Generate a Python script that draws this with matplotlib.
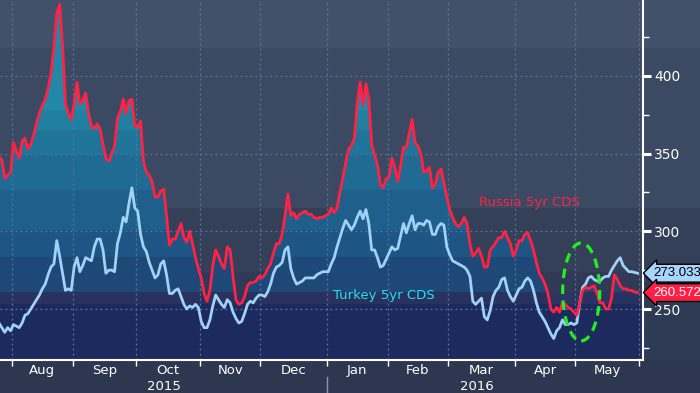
import numpy as np
import pandas as pd
import matplotlib
matplotlib.use('Agg')
import matplotlib.pyplot as plt
from matplotlib.patches import Ellipse
from matplotlib.colors import to_rgb
import matplotlib.transforms as mtransforms

# ---------------- data (business days from 2015-07-27) ----------------
start_date = '2015-07-27'

russia_cds = [
    348, 346, 334, 336, 338, 357, 352, 347, 358, 360,
    353, 356, 362, 370, 376, 381, 385, 392, 402, 418,
    440, 446, 420, 382, 376, 372, 382, 396, 382, 384,
    389, 376, 368, 366, 369, 366, 356, 347, 345, 350,
    355, 373, 377, 385, 376, 384, 385, 368, 367, 371,
    345, 338, 336, 332, 322, 322, 326, 327, 310, 291,
    295, 295, 300, 305, 296, 293, 300, 292, 283, 276,
    270, 260, 255, 262, 278, 288, 284, 279, 276, 290,
    288, 271, 256, 253, 254, 258, 265, 267, 267, 268,
    271, 270, 272, 276, 279, 286, 292, 292, 298, 310,
    324, 310, 312, 308, 311, 312, 313, 311, 311, 309,
    308, 309, 309, 310, 311, 315, 312, 315, 325, 334,
    344, 353, 355, 360, 383, 396, 381, 395, 385, 356,
    349, 343, 330, 328, 334, 335, 347, 341, 332, 342,
    354, 354, 363, 372, 357, 355, 350, 338, 339, 341,
    328, 330, 338, 340, 331, 322, 314, 309, 305, 303,
    305, 309, 305, 292, 284, 286, 289, 284, 277, 277,
    288, 290, 293, 296, 296, 300, 296, 292, 284, 288,
    294, 294, 298, 299, 294, 288, 280, 273, 270, 266,
    260, 250, 248, 251, 248, 254, 253, 251, 250, 248,
    246, 254, 262, 264, 263, 264, 265, 260, 254, 254,
    250, 250, 257, 272, 269, 265, 263, 263, 262, 262,
    261, 260.572,
]

turkey_cds = [
    241, 238, 235, 238, 236, 240, 239, 238, 241, 246,
    247, 250, 253, 256, 259, 263, 266, 272, 277, 279,
    294, 284, 273, 262, 263, 262, 277, 283, 274, 278,
    283, 282, 281, 290, 295, 295, 288, 273, 275, 275,
    274, 292, 299, 309, 306, 318, 328, 315, 313, 298,
    290, 287, 280, 275, 270, 272, 279, 281, 272, 260,
    260, 262, 263, 258, 253, 250, 252, 251, 253, 251,
    242, 238, 238, 243, 252, 259, 256, 253, 251, 256,
    254, 248, 244, 241, 242, 247, 253, 255, 254, 257,
    259, 259, 258, 261, 266, 273, 277, 278, 280, 288,
    290, 276, 270, 266, 267, 268, 270, 270, 270, 270,
    272, 273, 274, 274, 274, 279, 283, 290, 296, 302,
    307, 304, 301, 304, 309, 313, 308, 314, 305, 288,
    288, 283, 277, 278, 282, 286, 290, 288, 289, 297,
    305, 299, 305, 310, 301, 305, 305, 304, 307, 306,
    298, 298, 303, 305, 304, 290, 285, 281, 280, 279,
    278, 277, 275, 271, 255, 253, 255, 257, 245, 243,
    249, 258, 262, 264, 269, 270, 262, 258, 255, 259,
    263, 264, 268, 270, 268, 262, 254, 248, 245, 242,
    238, 234, 231, 236, 238, 243, 240, 240, 241, 240,
    241, 254, 264, 266, 270, 271, 269, 268, 268, 270,
    271, 271, 275, 278, 281, 283, 278, 276, 274, 274,
    273.5, 273.033,
]

y_major = [250, 300, 350, 400]
y_minor = [225, 275, 325, 375, 425]
month_labels = ['Aug', 'Sep', 'Oct', 'Nov', 'Dec', 'Jan', 'Feb', 'Mar', 'Apr', 'May']
year_labels = ['2015', '2016']
russia_label = 'Russia 5yr CDS'
turkey_label = 'Turkey 5yr CDS'

# ---------------- styling ----------------
RED = '#ff2244'
BLUE = '#a0d1f7'
CYAN = '#18e6f2'
GREEN = '#22ee22'
GRID = '#58789a'

dates = pd.bdate_range(start_date, periods=len(russia_cds))
x = np.arange(len(dates))
russia = np.array(russia_cds, dtype=float)
turkey = np.array(turkey_cds, dtype=float)

months = dates.to_period('M')
first_idx = [int(np.where(months == m)[0][0]) for m in months.unique()]
bounds = [i - 0.5 for i in first_idx[1:]] + [len(dates) - 0.5]
mids = [(a + b) / 2 for a, b in zip(bounds[:-1], bounds[1:])]
jan_bound = bounds[month_labels.index('Jan')]

W, H = 700, 393
fig = plt.figure(figsize=(W / 100, H / 100), dpi=100)
fig.patch.set_facecolor('#2d3850')

# figure background bands (pixel rows from top)
bg = fig.add_axes([0, 0, 1, 1], zorder=0)
bg.set_xlim(0, W)
bg.set_ylim(H, 0)
bg.axis('off')
for y0, y1, c in [(0, 48, '#435069'), (48, 208, '#3b4963'), (208, 275, '#343f58'),
                  (275, 360, '#2f3a54'), (360, 393, '#2d3850')]:
    bg.axhspan(y0, y1, color=c, lw=0)

# main axes
ax = fig.add_axes([0, 33 / H, 643 / W, 360 / H], zorder=1)
ax.set_facecolor('none')
ylo, yhi = 217.2, 448.8
xlo, xhi = 0.35, 222.9

# background value bands
bg_edges = [ylo, 253.2, 260.9, 273.8, 315.0, 418.0, yhi]
bg_cols = ['#1d2b5f', '#2c3460', '#303a56', '#343f58', '#3b4963', '#435069']
for a, b, c in zip(bg_edges[:-1], bg_edges[1:], bg_cols):
    ax.axhspan(a, b, color=c, lw=0, zorder=0.3)

# banded gradient fill under the Russia line
fill_edges = [253.2, 260.9, 283.5, 300.8, 326.6, 350, 365, 378]
fill_cols = ['#1c2a5e', '#29325f', '#1e4878', '#1d5584', '#1e608b',
             '#1f6b93', '#1f7599', '#217fa0', '#2387a7']
vals = np.linspace(ylo, yhi, 2000)
band_idx = np.searchsorted(fill_edges, vals)
img = np.array([to_rgb(fill_cols[i]) for i in band_idx])[:, None, :]
im = ax.imshow(img, extent=[xlo, xhi, ylo, yhi], origin='lower', aspect='auto',
               interpolation='nearest', zorder=1)
coll = ax.fill_between(x, russia, ylo, facecolor='none', edgecolor='none')
im.set_clip_path(coll.get_paths()[0], ax.transData)

# lines
ax.plot(x, turkey, color=BLUE, lw=2, zorder=3, solid_joinstyle='round')
ax.plot(x, russia, color=RED, lw=2, zorder=4, solid_joinstyle='round')

ax.set_xlim(xlo, xhi)
ax.set_ylim(ylo, yhi)

# grid
ax.set_axisbelow('line')
ax.set_xticks(bounds)
ax.set_xticklabels([])
ax.set_xticks(mids, minor=True)
ax.set_xticklabels(month_labels, minor=True)
ax.yaxis.tick_right()
ax.set_yticks(y_major)
ax.set_yticks(y_minor, minor=True)
ax.grid(True, which='major', color=GRID, lw=0.9, ls=(0, (1.5, 2.5)))

for s in ['left', 'top']:
    ax.spines[s].set_visible(False)
for s in ['right', 'bottom']:
    ax.spines[s].set_color('white')
    ax.spines[s].set_linewidth(1.5)

ax.tick_params(axis='x', which='major', colors='white', length=4, width=1, direction='out')
ax.tick_params(axis='x', which='minor', length=0, pad=3, labelcolor='white', labelsize=9.5)
ax.tick_params(axis='y', which='major', colors='white', length=6, width=2.2,
               direction='out', labelsize=10, pad=2)
ax.tick_params(axis='y', which='minor', colors='white', length=4, width=1, direction='out')

# year labels and separator
trans = mtransforms.blended_transform_factory(ax.transData, fig.transFigure)
year_pos = [(bounds[0] + jan_bound) / 2, (jan_bound + bounds[-1]) / 2]
for xp, lab in zip(year_pos, year_labels):
    ax.text(xp - 2, 1 - 386.5 / H, lab, transform=trans, color='white', fontsize=9.5,
            ha='center', va='center')
ax.plot([jan_bound, jan_bound], [1 - 377 / H, 0], transform=trans, clip_on=False,
        color='#8c94a8', lw=1)

# series labels
ax.text(166.2, 318.5, russia_label, color=RED, fontsize=9.5, ha='left', va='center', zorder=6)
ax.text(115.6, 258.4, turkey_label, color=CYAN, fontsize=9.5, ha='left', va='center', zorder=6)

# price tags on the right
tag_trans = mtransforms.blended_transform_factory(ax.transAxes, ax.transData)
tag_font = dict(family='Liberation Sans', fontsize=9.5)
ax.text(1.0156, turkey[-1], f'{turkey[-1]:.3f}', transform=tag_trans, color='black',
        ha='left', va='center', clip_on=False, zorder=7, **tag_font,
        bbox=dict(boxstyle='larrow,pad=0.22', fc='#a8d5fb', ec='black', lw=1))
ax.text(1.0156, russia[-1], f'{russia[-1]:.3f}', transform=tag_trans, color='white',
        ha='left', va='center', clip_on=False, zorder=7, **tag_font,
        bbox=dict(boxstyle='larrow,pad=0.22', fc='#ff1f44', ec='black', lw=1))

# green dashed ellipse highlight
ax.add_patch(Ellipse((201.5, 261), width=12.8, height=63, fill=False, ec=GREEN,
                     lw=2.3, ls=(0, (3, 2)), zorder=5))

fig.savefig('out.png', dpi=100, facecolor=fig.get_facecolor())
